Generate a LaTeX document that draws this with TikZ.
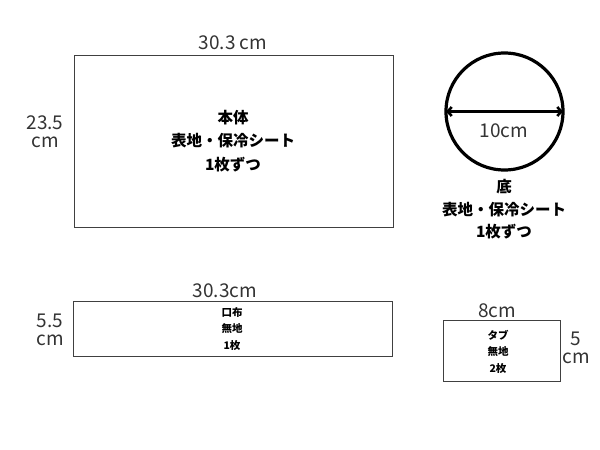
\documentclass[tikz,border=0pt]{standalone}
\usepackage{fontspec}
\setmainfont{Noto Sans CJK JP}
\usetikzlibrary{arrows.meta}
\begin{document}
\begin{tikzpicture}[x=1pt,y=-1pt,
  part/.style={draw=black!75,line width=0.9pt},
  dim/.style={font=\fontsize{19}{18}\selectfont,text=black!80,align=center,inner sep=0pt},
  big/.style={font=\fontsize{15.5}{23.5}\selectfont\bfseries,align=center,inner sep=0pt},
  small/.style={font=\fontsize{10.5}{16.5}\selectfont\bfseries,align=center,inner sep=0pt}]
\useasboundingbox (0,0) rectangle (600,450);
% main body
\node[part,minimum width=319pt,minimum height=172pt,inner sep=0pt] (body) at (233.5,141) {};
\node[big] (bodyt) at (233,141) {本体\\表地・保冷シート\\1枚ずつ};
\node[dim] (bw) at (233,43) {30.3 cm};
\node[dim] (bh) at (45,132) {23.5\\cm};
% bottom circle
\node[draw=black,line width=3.2pt,circle,minimum size=117pt,inner sep=0pt] (base) at (504.5,111.5) {};
\coordinate (bl) at ([xshift=1.6pt]base.west);
\coordinate (br) at ([xshift=-1.6pt]base.east);
\draw[line width=2.6pt,{Straight Barb[length=4pt,width=9pt]}-{Straight Barb[length=4pt,width=9pt]}] (bl) -- (br);
\node[dim] (bd) at (504,130.5) {10cm};
\node[big,font=\fontsize{15.5}{22.5}\selectfont\bfseries] (baset) at (504,209.5) {底\\表地・保冷シート\\1枚ずつ};
% mouth cloth
\node[part,minimum width=319pt,minimum height=55pt,inner sep=0pt] (mouth) at (232.5,328.5) {};
\node[small] (moutht) at (232,329) {口布\\無地\\1枚};
\node[dim] (mw) at (225,291) {30.3cm};
\node[dim] (mh) at (50,330) {5.5\\cm};
% tab
\node[part,minimum width=117pt,minimum height=61pt,inner sep=0pt] (tab) at (501.5,350.5) {};
\node[small] (tabt) at (498,351.5) {タブ\\無地\\2枚};
\node[dim] (tw) at (497,311) {8cm};
\node[dim] (th) at (576,348) {5\\cm};
\end{tikzpicture}
\end{document}
